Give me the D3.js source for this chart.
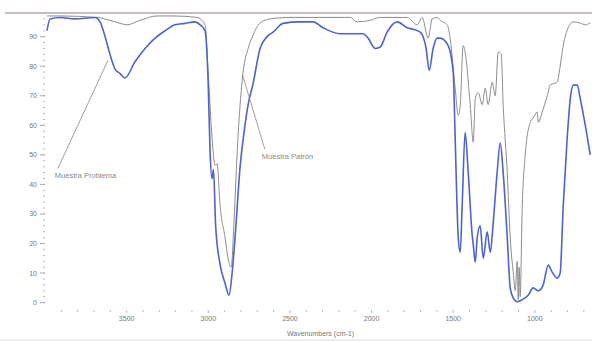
<!DOCTYPE html>
<html>
<head>
<meta charset="utf-8">
<script src="https://cdn.jsdelivr.net/npm/d3@7/dist/d3.min.js"></script>
<style>
  body { margin: 0; background: #fff; }
  text { font-family: "Liberation Sans", Arial, sans-serif; }
</style>
</head>
<body>
<svg id="chart" width="592" height="341"></svg>
<script>
// [wavenumber cm-1, % transmittance]
const muestraProblema = [
  [3988, 92], [3969, 96], [3908, 96.5], [3816, 96], [3694, 96.5], [3663, 95],
  [3632, 90], [3602, 84], [3571, 79], [3540, 77.5], [3510, 76], [3449, 81.5],
  [3387, 86], [3326, 89.5], [3265, 92], [3203, 94], [3142, 94.5], [3081, 95],
  [3050, 94], [3020, 92], [3001, 75], [2989, 51], [2977, 42], [2968, 45],
  [2955, 26], [2928, 13], [2897, 6.5], [2873, 2.5], [2854, 10], [2836, 22],
  [2805, 46], [2780, 58], [2756, 67], [2726, 74], [2683, 86], [2640, 90],
  [2603, 91.5], [2542, 94.5], [2438, 95], [2358, 95], [2297, 93], [2193, 91],
  [2131, 91], [2052, 91], [2021, 89.5], [1978, 86], [1947, 86.5], [1905, 91.5],
  [1843, 95], [1782, 93], [1745, 92.5], [1702, 91.5], [1666, 86], [1647, 78.6],
  [1623, 86], [1598, 89.5], [1580, 89.5], [1531, 87], [1500, 78], [1488, 55.6],
  [1469, 21.8], [1457, 17], [1445, 33], [1427, 57.6], [1408, 44], [1384, 23],
  [1377, 19.5], [1365, 13.7], [1353, 22], [1335, 26], [1316, 15], [1292, 24],
  [1273, 17], [1255, 27], [1231, 44], [1212, 54], [1194, 44], [1169, 22],
  [1151, 5], [1132, 1.5], [1108, 0.3], [1077, 1], [1041, 2.5], [1010, 5],
  [979, 4], [949, 6], [918, 12.7], [894, 10.3], [863, 8.3], [845, 10],
  [826, 33], [802, 55.6], [783, 69], [765, 73.6], [740, 73.6], [722, 69],
  [691, 60], [661, 50]
];

const muestraPatron = [
  [3988, 97], [3908, 97], [3682, 96.5], [3602, 95.5], [3540, 94.5], [3498, 94],
  [3418, 95.5], [3314, 97], [3216, 97], [3069, 96.5], [3020, 94], [3001, 78],
  [2977, 55.6], [2958, 46.5], [2946, 47], [2928, 33], [2897, 22], [2879, 15],
  [2860, 12], [2842, 28], [2824, 50], [2805, 67], [2787, 78], [2756, 86],
  [2726, 90.5], [2683, 94.6], [2622, 96], [2499, 96.5], [2131, 96.5], [2089, 95],
  [2009, 95.5], [1947, 96.5], [1782, 96.5], [1721, 94], [1690, 96.5], [1653, 89.5],
  [1629, 96], [1598, 96.5], [1580, 95.5], [1537, 94], [1519, 89.5], [1488, 72.6],
  [1469, 63.4], [1457, 66.8], [1439, 87], [1427, 84.8], [1396, 67], [1377, 54.3],
  [1365, 69], [1347, 71], [1322, 67], [1304, 72.6], [1286, 67], [1261, 74.6],
  [1243, 70], [1224, 84.8], [1206, 84], [1194, 67], [1169, 44], [1151, 22],
  [1132, 10], [1120, 4], [1108, 14], [1102, 1], [1096, 12], [1090, 2],
  [1077, 33], [1059, 50], [1028, 61], [1010, 62.5], [985, 64.5], [979, 61],
  [955, 64.5], [924, 70], [906, 73.6], [863, 74.6], [845, 80], [826, 87],
  [796, 93], [765, 95], [722, 94.6], [691, 94], [661, 94.6]
];

const xTickValues = [3500, 3000, 2500, 2000, 1500, 1000];
const yTickValues = [0, 10, 20, 30, 40, 50, 60, 70, 80, 90];

// label text, label anchor [wn, %T], leader end [wn, %T]
const annotations = [
  { name: 'Muestra Problema', at: [3940, 42], to: [3614, 82] },
  { name: 'Muestra Patrón', at: [2672, 48.5], to: [2790, 77] }
];

const width = 592, height = 341;
const margin = { top: 13, right: 0, bottom: 31, left: 45 };

const svg = d3.select('#chart');

const x = d3.scaleLinear([4000, 650], [margin.left, width - margin.right]);
const y = d3.scaleLinear([-2.5, 98], [height - margin.bottom, margin.top]);

// top frame line and faint bottom border
svg.append('line')
  .attr('x1', 5).attr('x2', width)
  .attr('y1', margin.top).attr('y2', margin.top)
  .attr('stroke', '#cbbcbc').attr('stroke-width', 2);
svg.append('line')
  .attr('x1', 0).attr('x2', width)
  .attr('y1', height - 1).attr('y2', height - 1)
  .attr('stroke', '#dfe7f1').attr('stroke-width', 1.5);

// Y axis
const yAxis = svg.append('g')
  .attr('transform', `translate(${margin.left},0)`);
yAxis.selectAll('line.minor')
  .data(d3.range(0, 98, 2))
  .join('line')
  .classed('minor', true)
  .attr('x1', -2).attr('x2', 0)
  .attr('y1', (d) => y(d)).attr('y2', (d) => y(d))
  .attr('stroke', '#b8b8b8');
yAxis.selectAll('line.major')
  .data(yTickValues)
  .join('line')
  .classed('major', true)
  .attr('x1', -5).attr('x2', 0)
  .attr('y1', (d) => y(d)).attr('y2', (d) => y(d))
  .attr('stroke', '#aaa');
yAxis.selectAll('text')
  .data(yTickValues)
  .join('text')
  .attr('x', -8)
  .attr('y', (d) => y(d))
  .attr('dy', '0.35em')
  .attr('text-anchor', 'end')
  .attr('font-size', 7)
  .attr('fill', '#777')
  .text((d) => d);

// X axis
const xAxis = svg.append('g')
  .attr('transform', `translate(0,${height - margin.bottom})`);
xAxis.selectAll('line')
  .data(d3.range(3900, 650, -100))
  .join('line')
  .attr('x1', (d) => x(d)).attr('x2', (d) => x(d))
  .attr('y1', 0).attr('y2', (d) => (d % 500 === 0 ? 3 : 2))
  .attr('stroke', '#b8b8b8');
xAxis.selectAll('text')
  .data(xTickValues)
  .join('text')
  .attr('x', (d) => x(d))
  .attr('y', 11)
  .attr('text-anchor', 'middle')
  .attr('font-size', 7)
  .attr('fill', '#777')
  .text((d) => d);
xAxis.append('text')
  .attr('x', (margin.left + width) / 2 + 2)
  .attr('y', 26)
  .attr('text-anchor', 'middle')
  .attr('font-size', 7)
  .attr('fill', '#777')
  .text('Wavenumbers (cm-1)');

// spectra
const line = d3.line()
  .x((d) => x(d[0]))
  .y((d) => y(d[1]))
  .curve(d3.curveMonotoneX);

svg.append('path')
  .datum(muestraPatron)
  .attr('fill', 'none')
  .attr('stroke', '#8c8c8c')
  .attr('stroke-width', 1)
  .attr('d', line);

svg.append('path')
  .datum(muestraProblema)
  .attr('fill', 'none')
  .attr('stroke', '#4d64cb')
  .attr('stroke-width', 1.6)
  .attr('d', line);

// annotations
const notes = svg.append('g');
notes.selectAll('line')
  .data(annotations)
  .join('line')
  .attr('x1', (d) => x(d.at[0]) + 3)
  .attr('y1', (d) => y(d.at[1]) - 10)
  .attr('x2', (d) => x(d.to[0]))
  .attr('y2', (d) => y(d.to[1]))
  .attr('stroke', '#888')
  .attr('stroke-width', 0.8);
notes.selectAll('text')
  .data(annotations)
  .join('text')
  .attr('x', (d) => x(d.at[0]))
  .attr('y', (d) => y(d.at[1]))
  .attr('font-size', 7.5)
  .attr('fill', '#888')
  .text((d) => d.name);
</script>
</body>
</html>
